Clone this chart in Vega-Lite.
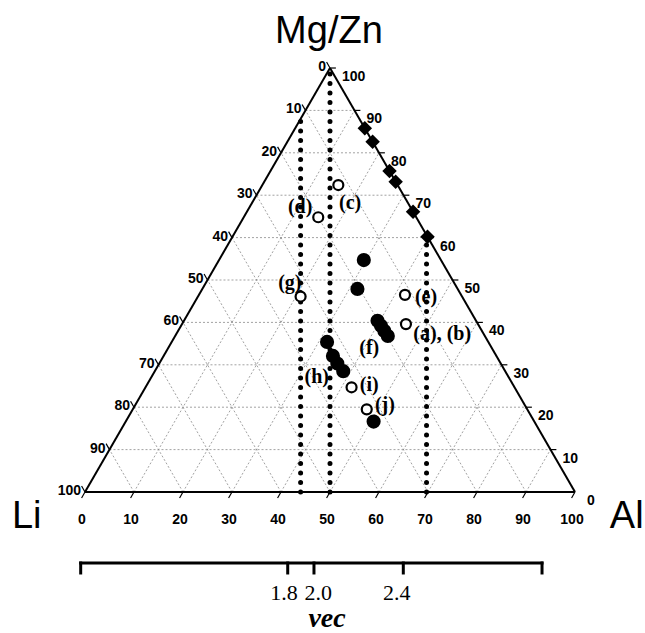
{
 "$schema": "https://vega.github.io/schema/vega-lite/v6.json",
 "width": 645, "height": 633,
 "autosize": {"type": "none"},
 "padding": 0,
 "background": "white",
 "config": {"view": {"stroke": null}},
 "datasets": {
  "grid": [
   {"x":5,"y":10,"x2":95,"y2":10},{"x":10,"y":20,"x2":90,"y2":20},{"x":15,"y":30,"x2":85,"y2":30},
   {"x":20,"y":40,"x2":80,"y2":40},{"x":25,"y":50,"x2":75,"y2":50},{"x":30,"y":60,"x2":70,"y2":60},
   {"x":35,"y":70,"x2":65,"y2":70},{"x":40,"y":80,"x2":60,"y2":80},{"x":45,"y":90,"x2":55,"y2":90},
   {"x":10,"y":0,"x2":55,"y2":90},{"x":20,"y":0,"x2":60,"y2":80},{"x":30,"y":0,"x2":65,"y2":70},
   {"x":40,"y":0,"x2":70,"y2":60},{"x":50,"y":0,"x2":75,"y2":50},{"x":60,"y":0,"x2":80,"y2":40},
   {"x":70,"y":0,"x2":85,"y2":30},{"x":80,"y":0,"x2":90,"y2":20},{"x":90,"y":0,"x2":95,"y2":10},
   {"x":90,"y":0,"x2":45,"y2":90},{"x":80,"y":0,"x2":40,"y2":80},{"x":70,"y":0,"x2":35,"y2":70},
   {"x":60,"y":0,"x2":30,"y2":60},{"x":50,"y":0,"x2":25,"y2":50},{"x":40,"y":0,"x2":20,"y2":40},
   {"x":30,"y":0,"x2":15,"y2":30},{"x":20,"y":0,"x2":10,"y2":20},{"x":10,"y":0,"x2":5,"y2":10}
  ],
  "edges": [
   {"x":0,"y":0,"x2":100,"y2":0},{"x":0,"y":0,"x2":50,"y2":100},{"x":100,"y":0,"x2":50,"y2":100}
  ],
  "dotted": [
   {"x":44,"y":0,"x2":44,"y2":88},{"x":50,"y":0,"x2":50,"y2":99},{"x":69.7,"y":0,"x2":69.7,"y2":60}
  ],
  "ticks": [
   {"x":0,"y":0,"x2":-0.7,"y2":-1.4},{"x":10,"y":0,"x2":9.3,"y2":-1.4},{"x":20,"y":0,"x2":19.3,"y2":-1.4},
   {"x":30,"y":0,"x2":29.3,"y2":-1.4},{"x":40,"y":0,"x2":39.3,"y2":-1.4},{"x":50,"y":0,"x2":49.3,"y2":-1.4},
   {"x":60,"y":0,"x2":59.3,"y2":-1.4},{"x":70,"y":0,"x2":69.3,"y2":-1.4},{"x":80,"y":0,"x2":79.3,"y2":-1.4},
   {"x":90,"y":0,"x2":89.3,"y2":-1.4},{"x":100,"y":0,"x2":99.3,"y2":-1.4},
   {"x":95,"y":10,"x2":96.2,"y2":10},{"x":90,"y":20,"x2":91.2,"y2":20},{"x":85,"y":30,"x2":86.2,"y2":30},
   {"x":80,"y":40,"x2":81.2,"y2":40},{"x":75,"y":50,"x2":76.2,"y2":50},{"x":70,"y":60,"x2":71.2,"y2":60},
   {"x":65,"y":70,"x2":66.2,"y2":70},{"x":60,"y":80,"x2":61.2,"y2":80},{"x":55,"y":90,"x2":56.2,"y2":90},
   {"x":50,"y":100,"x2":51.2,"y2":100},
   {"x":50,"y":100,"x2":49.3,"y2":101.4},{"x":45,"y":90,"x2":44.3,"y2":91.4},{"x":40,"y":80,"x2":39.3,"y2":81.4},
   {"x":35,"y":70,"x2":34.3,"y2":71.4},{"x":30,"y":60,"x2":29.3,"y2":61.4},{"x":25,"y":50,"x2":24.3,"y2":51.4},
   {"x":20,"y":40,"x2":19.3,"y2":41.4},{"x":15,"y":30,"x2":14.3,"y2":31.4},{"x":10,"y":20,"x2":9.3,"y2":21.4},
   {"x":5,"y":10,"x2":4.3,"y2":11.4},{"x":0,"y":0,"x2":-0.7,"y2":1.4}
  ],
  "leftlab": [
   {"x":50,"y":100,"t":"0"},{"x":45,"y":90,"t":"10"},{"x":40,"y":80,"t":"20"},{"x":35,"y":70,"t":"30"},
   {"x":30,"y":60,"t":"40"},{"x":25,"y":50,"t":"50"},{"x":20,"y":40,"t":"60"},{"x":15,"y":30,"t":"70"},
   {"x":10,"y":20,"t":"80"},{"x":5,"y":10,"t":"90"},{"x":0,"y":0,"t":"100"}
  ],
  "rightlab": [
   {"x":100,"y":0,"t":"0"},{"x":95,"y":10,"t":"10"},{"x":90,"y":20,"t":"20"},{"x":85,"y":30,"t":"30"},
   {"x":80,"y":40,"t":"40"},{"x":75,"y":50,"t":"50"},{"x":70,"y":60,"t":"60"},{"x":65,"y":70,"t":"70"},
   {"x":60,"y":80,"t":"80"},{"x":55,"y":90,"t":"90"},{"x":50,"y":100,"t":"100"}
  ],
  "botlab": [
   {"x":0,"y":0,"t":"0"},{"x":10,"y":0,"t":"10"},{"x":20,"y":0,"t":"20"},{"x":30,"y":0,"t":"30"},
   {"x":40,"y":0,"t":"40"},{"x":50,"y":0,"t":"50"},{"x":60,"y":0,"t":"60"},{"x":70,"y":0,"t":"70"},
   {"x":80,"y":0,"t":"80"},{"x":90,"y":0,"t":"90"},{"x":100,"y":0,"t":"100"}
  ],
  "titles": [
   {"x":38.8,"y":105.9,"t":"Mg/Zn"},{"x":-14.9,"y":-8.5,"t":"Li"},{"x":107.1,"y":-8.5,"t":"Al"}
  ],
  "vecaxis": [
   {"x":-0.88,"y":-16.75,"x2":93.27,"y2":-16.75},
   {"x":-0.88,"y":-16.75,"x2":-0.88,"y2":-19.1},
   {"x":93.27,"y":-16.75,"x2":93.27,"y2":-19.1},
   {"x":41.37,"y":-16.75,"x2":41.37,"y2":-19.1},
   {"x":46.73,"y":-16.75,"x2":46.73,"y2":-19.1},
   {"x":64.96,"y":-16.75,"x2":64.96,"y2":-19.1}
  ],
  "veclab": [
   {"x":40.6,"y":-25.5,"t":"1.8"},{"x":47.6,"y":-25.5,"t":"2.0"},{"x":63.6,"y":-25.5,"t":"2.4"}
  ],
  "vectitle": [{"x":49.4,"y":-31.9,"t":"vec"}],
  "diamonds": [
   {"x":57.1,"y":85.8},{"x":58.7,"y":82.6},{"x":62.15,"y":75.7},{"x":63.4,"y":73.2},{"x":66.95,"y":66.1},{"x":69.9,"y":60.2}
  ],
  "filled": [
   {"x":56.9,"y":54.7},{"x":55.6,"y":47.9},
   {"x":59.7,"y":40.4},{"x":60.4,"y":39.2},{"x":61.1,"y":38.0},{"x":61.8,"y":36.8},
   {"x":49.4,"y":35.4},{"x":50.6,"y":32.1},{"x":51.5,"y":30.3},{"x":52.7,"y":28.5},
   {"x":58.9,"y":16.6}
  ],
  "open": [
   {"x":51.7,"y":72.4},{"x":47.6,"y":64.8},{"x":44.0,"y":46.1},{"x":65.3,"y":46.5},
   {"x":65.5,"y":39.6},{"x":54.4,"y":24.7},{"x":57.5,"y":19.5}
  ],
  "plabels": [
   {"x":54.1,"y":68.2,"t":"(c)"},{"x":43.9,"y":67.2,"t":"(d)"},{"x":41.8,"y":49.3,"t":"(g)"},
   {"x":69.6,"y":46.0,"t":"(e)"},{"x":72.9,"y":37.3,"t":"(a), (b)"},{"x":58.0,"y":34.0,"t":"(f)"},
   {"x":47.3,"y":27.1,"t":"(h)"},{"x":58.0,"y":25.2,"t":"(i)"},{"x":61.2,"y":20.5,"t":"(j)"}
  ]
 },
 "layer": [
  {"data":{"name":"grid"},"mark":{"type":"rule","color":"#8a8a8a","strokeWidth":0.8,"strokeDash":[2,2]},
   "encoding":{"x":{"field":"x","type":"quantitative","scale":{"domain":[-17.347,114.286],"nice":false,"zero":false},"axis":null},
    "y":{"field":"y","type":"quantitative","scale":{"domain":[-33.255,116.04],"nice":false,"zero":false},"axis":null},
    "x2":{"field":"x2"},"y2":{"field":"y2"}}},
  {"data":{"name":"dotted"},"mark":{"type":"rule","color":"black","strokeWidth":5,"strokeCap":"round","strokeDash":[0.1,9.4]},
   "encoding":{"x":{"field":"x","type":"quantitative"},"y":{"field":"y","type":"quantitative"},"x2":{"field":"x2"},"y2":{"field":"y2"}}},
  {"data":{"name":"edges"},"mark":{"type":"rule","color":"black","strokeWidth":2},
   "encoding":{"x":{"field":"x","type":"quantitative"},"y":{"field":"y","type":"quantitative"},"x2":{"field":"x2"},"y2":{"field":"y2"}}},
  {"data":{"name":"ticks"},"mark":{"type":"rule","color":"black","strokeWidth":1.2},
   "encoding":{"x":{"field":"x","type":"quantitative"},"y":{"field":"y","type":"quantitative"},"x2":{"field":"x2"},"y2":{"field":"y2"}}},
  {"data":{"name":"vecaxis"},"mark":{"type":"rule","color":"black","strokeWidth":3,"strokeCap":"square"},
   "encoding":{"x":{"field":"x","type":"quantitative"},"y":{"field":"y","type":"quantitative"},"x2":{"field":"x2"},"y2":{"field":"y2"}}},
  {"data":{"name":"leftlab"},"mark":{"type":"text","align":"right","baseline":"middle","dx":-4,"dy":-1,"font":"Liberation Sans","fontSize":14,"fontWeight":"bold","color":"black"},
   "encoding":{"x":{"field":"x","type":"quantitative"},"y":{"field":"y","type":"quantitative"},"text":{"field":"t"}}},
  {"data":{"name":"rightlab"},"mark":{"type":"text","align":"left","baseline":"middle","dx":12,"dy":9,"font":"Liberation Sans","fontSize":14,"fontWeight":"bold","color":"black"},
   "encoding":{"x":{"field":"x","type":"quantitative"},"y":{"field":"y","type":"quantitative"},"text":{"field":"t"}}},
  {"data":{"name":"botlab"},"mark":{"type":"text","align":"center","baseline":"middle","dx":-3,"dy":28,"font":"Liberation Sans","fontSize":14,"fontWeight":"bold","color":"black"},
   "encoding":{"x":{"field":"x","type":"quantitative"},"y":{"field":"y","type":"quantitative"},"text":{"field":"t"}}},
  {"data":{"name":"titles"},"mark":{"type":"text","align":"left","baseline":"alphabetic","font":"Liberation Sans","fontSize":38,"color":"black"},
   "encoding":{"x":{"field":"x","type":"quantitative"},"y":{"field":"y","type":"quantitative"},"text":{"field":"t"}}},
  {"data":{"name":"veclab"},"mark":{"type":"text","align":"center","baseline":"alphabetic","font":"Liberation Serif","fontSize":22,"color":"black"},
   "encoding":{"x":{"field":"x","type":"quantitative"},"y":{"field":"y","type":"quantitative"},"text":{"field":"t"}}},
  {"data":{"name":"vectitle"},"mark":{"type":"text","align":"center","baseline":"alphabetic","font":"Liberation Serif","fontSize":28,"fontWeight":"bold","fontStyle":"italic","color":"black"},
   "encoding":{"x":{"field":"x","type":"quantitative"},"y":{"field":"y","type":"quantitative"},"text":{"field":"t"}}},
  {"data":{"name":"diamonds"},"mark":{"type":"point","shape":"diamond","filled":true,"color":"black","size":210,"opacity":1},
   "encoding":{"x":{"field":"x","type":"quantitative"},"y":{"field":"y","type":"quantitative"}}},
  {"data":{"name":"filled"},"mark":{"type":"point","shape":"circle","filled":true,"color":"black","size":200,"opacity":1},
   "encoding":{"x":{"field":"x","type":"quantitative"},"y":{"field":"y","type":"quantitative"}}},
  {"data":{"name":"open"},"mark":{"type":"point","shape":"circle","filled":true,"fill":"white","stroke":"black","strokeWidth":2.2,"size":100,"opacity":1},
   "encoding":{"x":{"field":"x","type":"quantitative"},"y":{"field":"y","type":"quantitative"}}},
  {"data":{"name":"plabels"},"mark":{"type":"text","align":"center","baseline":"middle","font":"Liberation Serif","fontSize":20,"fontWeight":"bold","color":"black"},
   "encoding":{"x":{"field":"x","type":"quantitative"},"y":{"field":"y","type":"quantitative"},"text":{"field":"t"}}}
 ]
}
